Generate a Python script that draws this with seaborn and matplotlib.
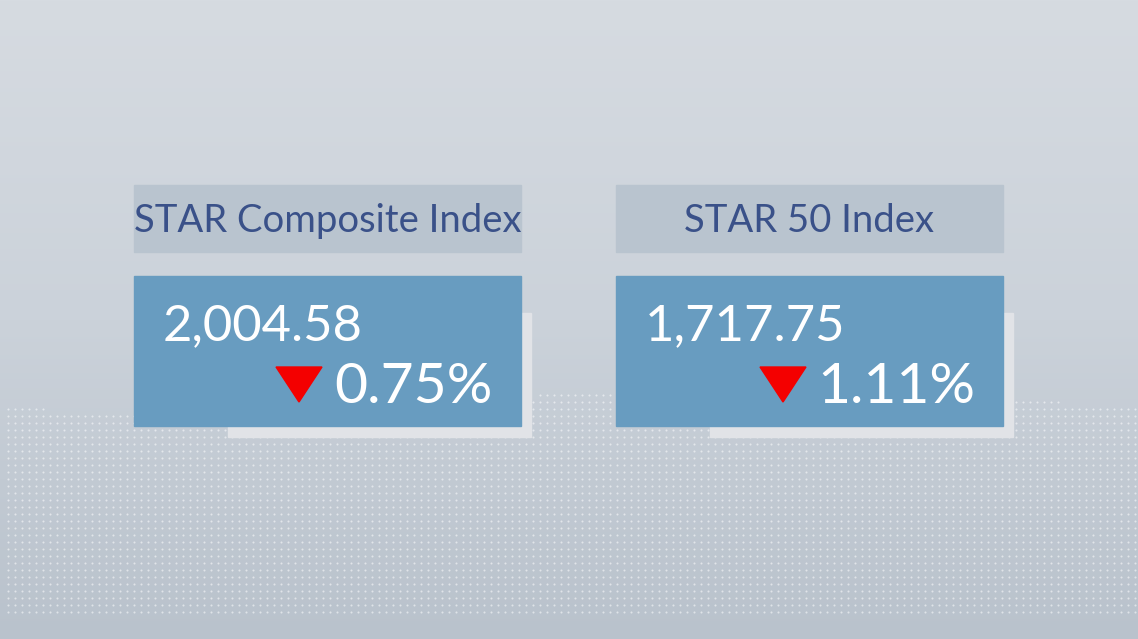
import numpy as np
import matplotlib.pyplot as plt
import seaborn as sns
from matplotlib.patches import Rectangle, Polygon

# 指数データ
names = ["STAR Composite Index", "STAR 50 Index"]
values = ["2,004.58", "1,717.75"]
changes = ["0.75%", "1.11%"]

sns.set_theme(style="white")
plt.rcParams['font.family'] = ['Lato', 'DejaVu Sans']

W, H = 1138, 639
fig = plt.figure(figsize=(W / 100, H / 100), dpi=100)
ax = fig.add_axes([0, 0, 1, 1])
ax.set_xlim(0, W)
ax.set_ylim(H, 0)
ax.axis("off")

# 背景グラデーション
top = np.array([214, 219, 225]) / 255
mid = np.array([203, 210, 218]) / 255
bot = np.array([185, 194, 204]) / 255
t = np.linspace(0, 1, H)[:, None]
grad = np.where(t < 0.5, top + (mid - top) * (t / 0.5), mid + (bot - mid) * ((t - 0.5) / 0.5))
ax.imshow(grad[:, None, :].repeat(2, axis=1), extent=[0, W, H, 0], aspect="auto", zorder=0)

# 点のパターン(波形の上端)
gx, gy = np.meshgrid(np.arange(8, W, 7.0), np.arange(395, 615, 7.0))
edge = 400 + 12 * np.sin(gx / W * 2 * np.pi + 0.6)
mask = gy > edge
ax.scatter(gx[mask], gy[mask], s=2.2, color="white", alpha=0.55, linewidths=0, zorder=1)

x0 = [134, 616]
bw = 387
for i in range(len(names)):
    x = x0[i]
    # 影
    ax.add_patch(Rectangle((x + 94, 313), bw - 84, 124, color="#e1e3e7", zorder=2))
    # 見出し
    ax.add_patch(Rectangle((x, 185), bw, 67, color="#b9c4cf", zorder=3))
    ax.text(x + bw / 2, 221, names[i], ha="center", va="center", fontsize=27.5,
            color="#3a5189", zorder=4)
    # 値ボックス
    ax.add_patch(Rectangle((x, 276), bw, 150, color="#689cc0", zorder=3))
    ax.text(x + 29, 340, values[i], ha="left", va="baseline", fontsize=36.5,
            color="white", zorder=4)
    ax.text(x + 359, 403, changes[i], ha="right", va="baseline", fontsize=41,
            color="white", zorder=4)
    tri_r = x + 188 if i == 0 else x + 190
    ax.add_patch(Polygon([[tri_r - 46, 367], [tri_r, 367], [tri_r - 23, 402]],
                         closed=True, color="#f40000", zorder=4))

fig.savefig("out.png", dpi=100)
